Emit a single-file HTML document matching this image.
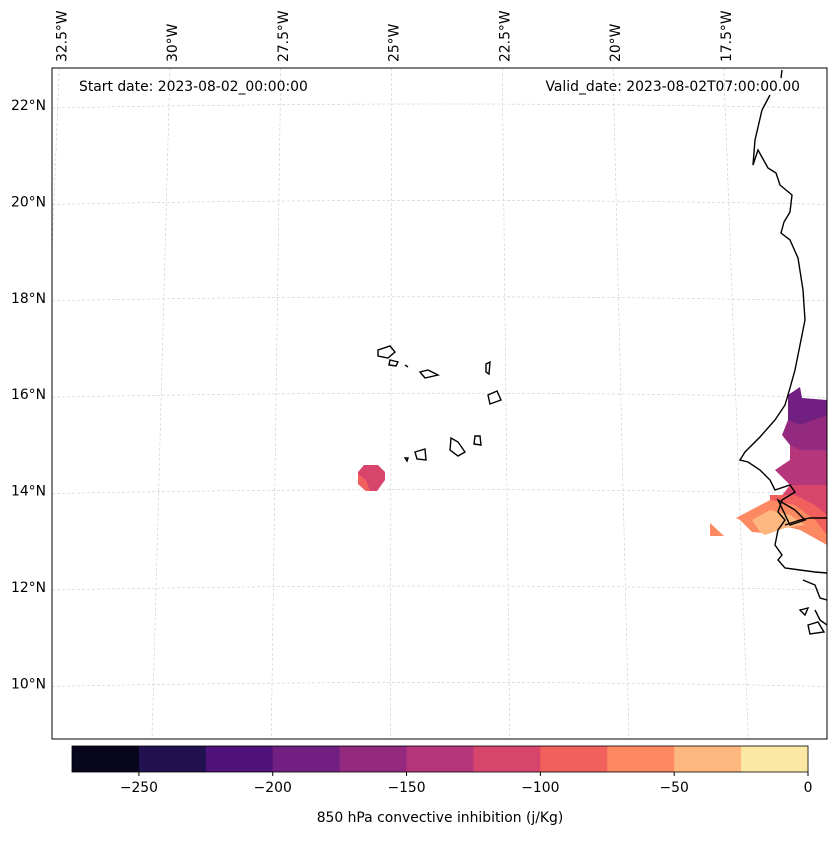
<!DOCTYPE html>
<html><head><meta charset="utf-8"><style>
body{margin:0;background:#fff;font-family:"Liberation Sans",sans-serif;}
svg text{font-family:"DejaVu Sans","Liberation Sans",sans-serif;}
</style></head><body>
<svg width="837" height="836" viewBox="0 0 837 836" xmlns="http://www.w3.org/2000/svg">
<defs><clipPath id="frameclip"><rect x="52" y="68" width="775" height="671"/></clipPath></defs>
<g id="grid" clip-path="url(#frameclip)"></g>
<g id="labels"></g>
<g clip-path="url(#frameclip)">
<polygon fill="#711f81" points="788,395 800,387 802,398 827,400 827,420 800,430 790,430 788,420"/>
<polygon fill="#932a80" points="788,420 800,425 827,415 827,455 800,455 790,445 782,435"/>
<polygon fill="#b5367a" points="790,445 800,450 827,450 827,490 800,495 790,485 775,470 790,460"/>
<polygon fill="#d8456c" points="790,485 827,485 827,520 810,515 795,500 780,498"/>
<polygon fill="#f1605d" points="770,495 795,495 815,505 827,515 827,540 812,525 790,515 770,505"/>
<polygon fill="#fc8961" points="736,518 770,500 795,505 815,520 827,535 827,545 800,530 780,525 765,533 752,532 740,520"/>
<polygon fill="#feb77e" points="752,520 770,510 790,515 805,525 785,528 765,535 760,532"/>
<polygon fill="#fc8961" points="710,523 724,536 710,536"/>
<polygon fill="#d8456c" points="364,465 378,465 385,472 385,480 377,491 366,491 358,484 358,472"/>
<polygon fill="#f1605d" points="358,474 366,480 370,491 366,491 358,484"/>
</g>
<g fill="none" stroke="#000" stroke-width="1.4" clip-path="url(#frameclip)">
<path d="M782,70 L781,78 M770,95 L762,110 L755,140 L753,165 L758,150 L768,168 L776,173 L780,185 L792,195 L790,212 L784,222 L781,233 L790,240 L798,258 L803,290 L805,320 L800,345 L795,370 L790,388 L785,405 L775,420 L760,437 L745,452 L740,460 L748,462 L760,470 L770,480 L775,490 L790,485 L795,492 L782,500 L778,512 L785,520 L778,530 L775,545 L782,555 L778,560 L785,568 L800,570 L815,572 L827,573 M785,525 L800,520 L810,518 L827,518 M803,580 L815,585 L820,598 L827,600 M815,610 L820,620 L827,625"/>
<path d="M778,500 L795,510 L805,520 L790,525 Z"/>
<path d="M378,350 L390,346 L395,352 L388,358 L378,356 Z M390,360 L398,362 L396,366 L389,365 Z M405,365 L408,367 M420,372 L428,370 L438,375 L425,378 Z M486,364 L490,362 L489,374 L486,372 Z M488,395 L497,391 L501,400 L490,404 Z M415,452 L425,449 L426,460 L417,459 Z M405,458 L408,458 L407,461 Z M451,438 L458,442 L465,452 L458,456 L450,450 Z M475,436 L480,436 L481,445 L474,444 Z M800,610 L808,608 L805,615 Z M808,625 L818,622 L824,632 L810,634 Z"/>
</g>
<rect x="52" y="68" width="775" height="671" fill="none" stroke="#000" stroke-width="1"/>
<text x="79" y="91" font-size="13.9">Start date: 2023-08-02_00:00:00</text>
<text x="800" y="91" font-size="13.9" text-anchor="end">Valid_date: 2023-08-02T07:00:00.00</text>
<g id="cbar"></g>
<text x="440" y="822" font-size="13.9" text-anchor="middle">850 hPa convective inhibition (j/Kg)</text>
</svg>
<script>
const lats=[22,20,18,16,14,12,10];
const lons=[32.5,30,27.5,25,22.5,20,17.5];
const levels=[-275,-250,-225,-200,-175,-150,-125,-100,-75,-50,-25,0];
const colors=["#07061c","#221150","#4f127b","#711f81","#932a80","#b5367a","#d8456c","#f1605d","#fc8961","#feb77e","#fce8a5"];
const cbTicks=[-250,-200,-150,-100,-50,0];
const NS="http://www.w3.org/2000/svg";
function yLat(l){return 106+(22-l)*48.2;}
function xLonTop(l){return 172+(30-l)*44.3;}
function xLonBot(l){return 152+(30-l)*47.7;}
function cx(v){return 72+(v+275)/275*736;}
const g=document.getElementById('grid');
const lg=document.getElementById('labels');
lats.forEach(l=>{const y=yLat(l);
 const p=document.createElementNS(NS,'path');
 
 
 p.setAttribute('d',`M52,${y+2} Q440,${y-6} 827,${y+2}`);
 p.setAttribute('stroke','#ccc');p.setAttribute('stroke-dasharray','3,2');p.setAttribute('fill','none');p.setAttribute('stroke-width','0.6');g.appendChild(p);
 const t=document.createElementNS(NS,'text');
 
 
 t.setAttribute('x',46);t.setAttribute('y',y+4);t.setAttribute('text-anchor','end');t.setAttribute('font-size','13.9');t.textContent=l+'°N';lg.appendChild(t);});
lons.forEach(l=>{const xt=xLonTop(l),xb=xLonBot(l);
 const p=document.createElementNS(NS,'line');
 
 
 p.setAttribute('x1',xt-2);p.setAttribute('y1',68);p.setAttribute('x2',xb);p.setAttribute('y2',739);
 p.setAttribute('stroke','#ccc');p.setAttribute('stroke-dasharray','3,2');p.setAttribute('stroke-width','0.6');g.appendChild(p);
 const t=document.createElementNS(NS,'text');
 
 
 t.setAttribute('transform',`translate(${xt+5},62) rotate(-90)`);t.setAttribute('font-size','13.9');t.textContent=l+'°W';lg.appendChild(t);});
const cb=document.getElementById('cbar');
colors.forEach((c,i)=>{const r=document.createElementNS(NS,'rect');
 
 
 const x0=cx(levels[i]),x1=cx(levels[i+1]);
 r.setAttribute('x',x0);r.setAttribute('y',746);r.setAttribute('width',x1-x0+0.5);r.setAttribute('height',26);r.setAttribute('fill',c);cb.appendChild(r);});
const fr=document.createElementNS(NS,'rect');


fr.setAttribute('x',72);fr.setAttribute('y',746);fr.setAttribute('width',736);fr.setAttribute('height',26);fr.setAttribute('fill','none');fr.setAttribute('stroke','#000');fr.setAttribute('stroke-width','0.8');cb.appendChild(fr);
cbTicks.forEach(v=>{const x=cx(v);
 const l=document.createElementNS(NS,'line');
 
 
 l.setAttribute('x1',x);l.setAttribute('x2',x);l.setAttribute('y1',772);l.setAttribute('y2',776);l.setAttribute('stroke','#000');cb.appendChild(l);
 const t=document.createElementNS(NS,'text');
 
 
 t.setAttribute('x',x);t.setAttribute('y',792);t.setAttribute('text-anchor','middle');t.setAttribute('font-size','13.9');t.textContent=(v<0?'−'+(-v):v);cb.appendChild(t);});
</script>
</body></html>
